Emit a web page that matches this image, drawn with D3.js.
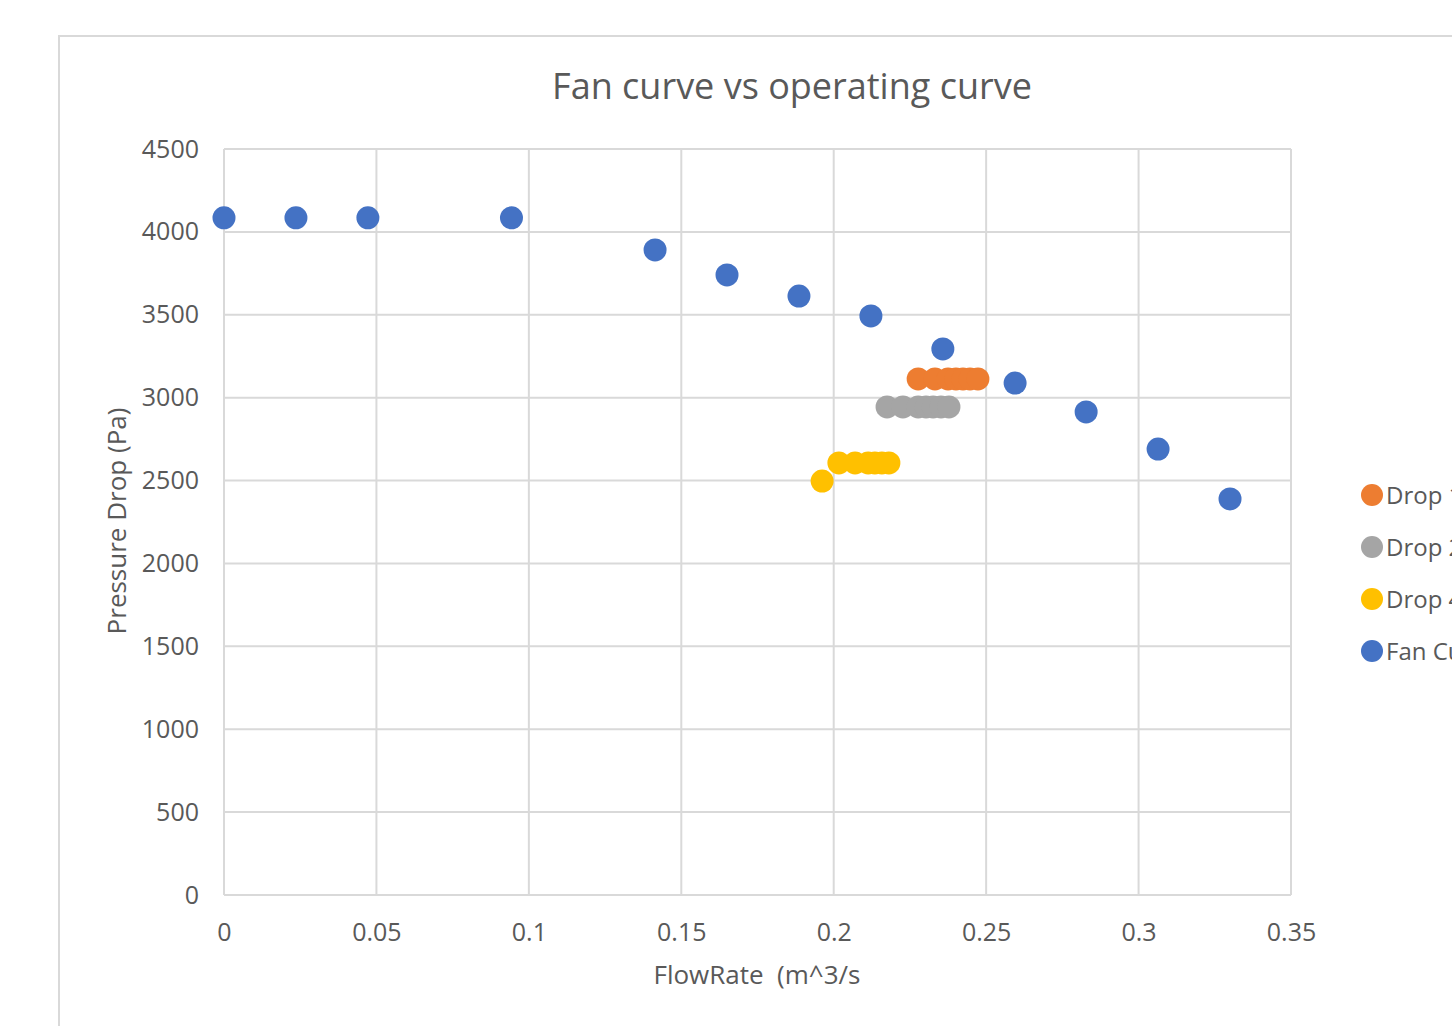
<!DOCTYPE html>
<html><head><meta charset="utf-8">
<script src="https://cdn.jsdelivr.net/npm/d3@7"></script>
<style>body{margin:0;background:#fff;font-family:"Open Sans","Noto Sans",sans-serif;}</style>
</head><body><svg id="c" width="1452" height="1026"></svg>
<script>
const xTicks = [0,0.05,0.1,0.15,0.2,0.25,0.3,0.35];
const yTicks = [0,500,1000,1500,2000,2500,3000,3500,4000,4500];
const seriesNames = ["Drop 1","Drop 2","Drop 4","Fan Curve"];
const seriesColors = ["#ED7D31","#A5A5A5","#FFC000","#4472C4"];
const drop1X = [0.2277,0.2332,0.2375,0.2401,0.2424,0.2447,0.2473];
const drop1Y = [3113,3113,3113,3113,3113,3113,3113];
const drop2X = [0.2175,0.2227,0.2277,0.2303,0.2326,0.2352,0.2378];
const drop2Y = [2944,2944,2944,2944,2944,2944,2944];
const drop4X = [0.1962,0.2017,0.207,0.2113,0.2135,0.2158,0.2181];
const drop4Y = [2497,2606,2606,2606,2606,2606,2606];
const fanX = [0,0.0236,0.0472,0.0943,0.1414,0.165,0.1886,0.2122,0.2358,0.2595,0.2828,0.3064,0.33];
const fanY = [4085,4085,4085,4085,3891,3740,3613,3493,3294,3088,2914,2690,2389];

const svg = d3.select("#c");
const x = d3.scaleLinear().domain([0,0.35]).range([224,1291]);
const y = d3.scaleLinear().domain([0,4500]).range([895,149]);
const txt = "#595959", grid = "#d9d9d9";
const ff = "'Open Sans','Noto Sans',sans-serif";

// chart frame
svg.append("rect").attr("x",59).attr("y",36).attr("width",1500).attr("height",1100)
  .attr("fill","#fff").attr("stroke",grid).attr("stroke-width",2);

// title
svg.append("text").attr("x",792).attr("y",99).attr("text-anchor","middle")
  .attr("font-size",36).attr("fill",txt).text("Fan curve vs operating curve");

// grid
const g = svg.append("g");
g.selectAll(".gy").data(yTicks).join("line").attr("x1",224).attr("x2",1291)
  .attr("y1",d=>y(d)).attr("y2",d=>y(d)).attr("stroke",grid).attr("stroke-width",2);
g.selectAll(".gx").data(xTicks).join("line").attr("y1",149).attr("y2",895)
  .attr("x1",d=>x(d)).attr("x2",d=>x(d)).attr("stroke",grid).attr("stroke-width",2);

// axes via d3 axis
const xa = svg.append("g").attr("transform","translate(0,895)")
  .call(d3.axisBottom(x).tickValues(xTicks).tickSize(0).tickFormat(d=>String(d)));
xa.selectAll("text").attr("y",46).attr("dy",null);
const ya = svg.append("g").attr("transform","translate(224,0)")
  .call(d3.axisLeft(y).tickValues(yTicks).tickSize(0).tickFormat(d=>String(d)));
ya.selectAll("text").attr("x",-25).attr("dy",8);
[xa,ya].forEach(a=>{a.select(".domain").remove();
  a.selectAll("text").attr("font-size",25).attr("fill",txt).attr("font-family",ff);});

// axis titles
svg.append("text").attr("x",757).attr("y",984).attr("text-anchor","middle")
  .attr("font-size",26).attr("fill",txt).style("white-space","pre").text("FlowRate  (m^3/s");
svg.append("text").attr("transform","translate(126,521) rotate(-90)").attr("text-anchor","middle")
  .attr("font-size",26).attr("fill",txt).text("Pressure Drop (Pa)");

// series
const data = [[drop1X,drop1Y],[drop2X,drop2Y],[drop4X,drop4Y],[fanX,fanY]];
data.forEach((s,i)=>{
  svg.append("g").selectAll("circle").data(s[0].map((v,j)=>[v,s[1][j]])).join("circle")
    .attr("cx",d=>x(d[0])).attr("cy",d=>y(d[1])).attr("r",11.5).attr("fill",seriesColors[i]);
});

// legend
const leg = svg.append("g");
seriesNames.forEach((n,i)=>{
  const yy = 495 + i*52;
  leg.append("circle").attr("cx",1372).attr("cy",yy).attr("r",11).attr("fill",seriesColors[i]);
  leg.append("text").attr("x",1386).attr("y",yy+9).attr("font-size",24).attr("fill",txt).text(n);
});
</script></body></html>
